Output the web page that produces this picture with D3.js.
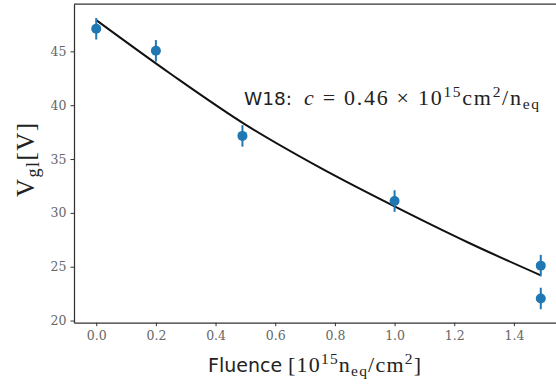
<!DOCTYPE html>
<html>
<head>
<meta charset="utf-8">
<script src="https://cdn.jsdelivr.net/npm/d3@7"></script>
<style>
  body { margin: 0; background: #fff; }
  svg { display: block; }
  .tick text { font-family: "DejaVu Serif", "Liberation Serif", serif; font-size: 12.5px; fill: #666; }
  .tick line { stroke: #333; }
  .domain { stroke: #333; stroke-width: 1.25; }
  .sans { font-family: "DejaVu Sans", sans-serif; }
  .serif { font-family: "Liberation Serif", "DejaVu Serif", serif; }
</style>
</head>
<body>
<div id="chart"></div>
<script>
// measured points
const fluence = [0, 0.2, 0.49, 1.0, 1.49, 1.49];
const vgl = [47.1, 45.05, 37.15, 31.1, 25.1, 22.05];
const vglErr = [1, 1, 1, 1, 1, 1];

// fit curve
const fitFluence = [0, 0.25, 0.5, 0.75, 1.0, 1.25, 1.49];
const fitVgl = [47.9, 42.9, 38.2, 34.2, 30.6, 27.2, 24.2];

const xTicks = [0, 0.2, 0.4, 0.6, 0.8, 1.0, 1.2, 1.4];
const yTicks = [20, 25, 30, 35, 40, 45];

const width = 556, height = 384;
const margin = { top: 4, left: 74, bottom: 61.3, plotRight: 563 };

const svg = d3.select("#chart").append("svg")
  .attr("width", width)
  .attr("height", height);

const x = d3.scaleLinear()
  .domain([-0.0745, 1.5645])
  .range([margin.left, margin.plotRight]);

const y = d3.scaleLinear()
  .domain([19.8, 49.4])
  .range([height - margin.bottom, margin.top]);

// axes
svg.append("g")
  .attr("transform", "translate(0," + (height - margin.bottom) + ")")
  .call(d3.axisBottom(x).tickValues(xTicks).tickFormat(d3.format(".1f")).tickSize(3.5).tickPadding(5).tickSizeOuter(0));

svg.append("g")
  .attr("transform", "translate(" + margin.left + ",0)")
  .call(d3.axisLeft(y).tickValues(yTicks).tickSize(3.5).tickPadding(4).tickSizeOuter(0));

// top spine
svg.append("line")
  .attr("x1", margin.left).attr("x2", margin.plotRight)
  .attr("y1", margin.top).attr("y2", margin.top)
  .attr("stroke", "#333").attr("stroke-width", 1.25);

// fit line
const fitData = fitFluence.map((f, i) => ({ f, v: fitVgl[i] }));
svg.append("path")
  .datum(fitData)
  .attr("fill", "none")
  .attr("stroke", "#111")
  .attr("stroke-width", 2)
  .attr("d", d3.line().x(d => x(d.f)).y(d => y(d.v)).curve(d3.curveCatmullRom));

// error bars + markers
const pts = fluence.map((f, i) => ({ f, v: vgl[i], e: vglErr[i] }));
svg.selectAll(".err")
  .data(pts)
  .enter().append("line")
  .attr("class", "err")
  .attr("x1", d => x(d.f)).attr("x2", d => x(d.f))
  .attr("y1", d => y(d.v - d.e)).attr("y2", d => y(d.v + d.e))
  .attr("stroke", "#1f77b4")
  .attr("stroke-width", 2);

svg.selectAll(".pt")
  .data(pts)
  .enter().append("circle")
  .attr("class", "pt")
  .attr("cx", d => x(d.f))
  .attr("cy", d => y(d.v))
  .attr("r", 5)
  .attr("fill", "#1f77b4");

// annotation: sans part + math part
svg.append("text")
  .attr("class", "sans")
  .attr("x", 244).attr("y", 105)
  .attr("fill", "#222")
  .style("font-size", "18.5px")
  .text("W18:");

const ann = svg.append("text")
  .attr("class", "serif")
  .attr("x", 304).attr("y", 105)
  .attr("fill", "#222")
  .attr("textLength", 235)
  .attr("lengthAdjust", "spacing")
  .style("font-size", "22px");
ann.append("tspan").style("font-style", "italic").text("c");
ann.append("tspan").text(" = 0.46 × 10");
ann.append("tspan").attr("dy", -8).style("font-size", "15.5px").text("15");
ann.append("tspan").attr("dy", 8).text("cm");
ann.append("tspan").attr("dy", -8).style("font-size", "15.5px").text("2");
ann.append("tspan").attr("dy", 8).text("/n");
ann.append("tspan").attr("dy", 4).style("font-size", "15.5px").text("eq");

// x label: sans part + math part
svg.append("text")
  .attr("class", "sans")
  .attr("x", 208).attr("y", 372)
  .attr("fill", "#222")
  .style("font-size", "19px")
  .text("Fluence");

const xl = svg.append("text")
  .attr("class", "serif")
  .attr("x", 288).attr("y", 372)
  .attr("fill", "#222")
  .attr("textLength", 133)
  .attr("lengthAdjust", "spacing")
  .style("font-size", "22px");
xl.append("tspan").text("[10");
xl.append("tspan").attr("dy", -8).style("font-size", "15.5px").text("15");
xl.append("tspan").attr("dy", 8).text("n");
xl.append("tspan").attr("dy", 4).style("font-size", "15.5px").text("eq");
xl.append("tspan").attr("dy", -4).text("/cm");
xl.append("tspan").attr("dy", -8).style("font-size", "15.5px").text("2");
xl.append("tspan").attr("dy", 8).text("]");

// y label
const yl = svg.append("text")
  .attr("class", "serif")
  .attr("transform", "translate(34,197) rotate(-90)")
  .attr("fill", "#222")
  .attr("textLength", 74)
  .attr("lengthAdjust", "spacing")
  .style("font-size", "25px");
yl.append("tspan").text("V");
yl.append("tspan").attr("dy", 5).style("font-size", "18px").text("gl");
yl.append("tspan").attr("dy", -5).text("[V]");
</script>
</body>
</html>
